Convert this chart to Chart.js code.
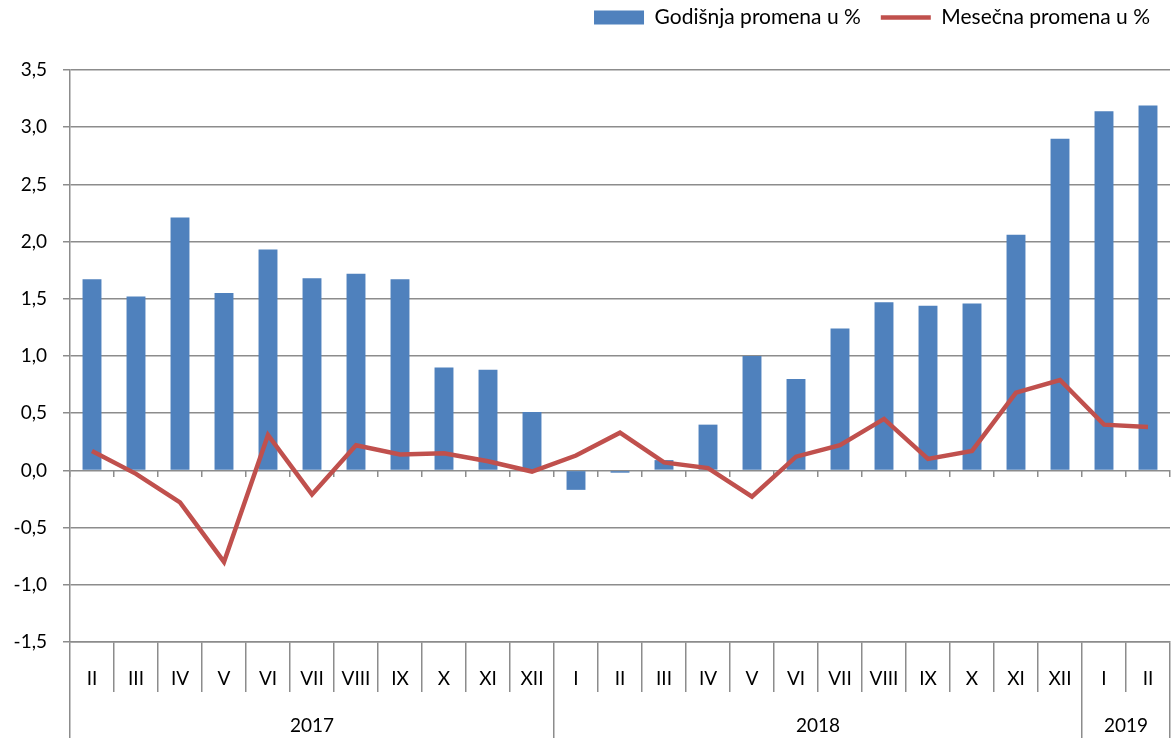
<!DOCTYPE html>
<html>
<head>
<meta charset="utf-8">
<script src="https://cdn.jsdelivr.net/npm/chart.js@4"></script>
<style>
  html, body { margin: 0; padding: 0; background: #fff; }
  #wrap { width: 1172px; height: 738px; }
</style>
</head>
<body>
<div id="wrap"><canvas id="grafik"></canvas></div>
<script>
// meseci, godine i vrednosti
var meseci = ['II', 'III', 'IV', 'V', 'VI', 'VII', 'VIII', 'IX', 'X', 'XI', 'XII',
    'I', 'II', 'III', 'IV', 'V', 'VI', 'VII', 'VIII', 'IX', 'X', 'XI', 'XII',
    'I', 'II'];
var godine = ['2017', '2018', '2019'];
var broj_meseci = [11, 12, 2];
var godisnja = [1.67, 1.52, 2.21, 1.55, 1.93, 1.68, 1.72, 1.67, 0.90, 0.88, 0.51,
    -0.17, -0.02, 0.09, 0.40, 1.00, 0.80, 1.24, 1.47, 1.44, 1.46, 2.06, 2.90,
    3.14, 3.19];
var mesecna = [0.17, -0.03, -0.28, -0.80, 0.31, -0.21, 0.22, 0.14, 0.15, 0.08, -0.01,
    0.13, 0.33, 0.07, 0.02, -0.23, 0.12, 0.22, 0.45, 0.10, 0.17, 0.68, 0.79,
    0.40, 0.38];
var y_ticks = [-1.5, -1.0, -0.5, 0.0, 0.5, 1.0, 1.5, 2.0, 2.5, 3.0, 3.5];

var siva = '#8c8c8c';
var font = { family: 'Lato', size: 19 };

// granice i sredine godina za donju osu
var granice = [-0.5];
var sredine = [];
var pocetak = -0.5;
for (let i = 0; i < broj_meseci.length; i++) {
    sredine.push(pocetak + broj_meseci[i] / 2);
    pocetak += broj_meseci[i];
    granice.push(pocetak);
}

// malo mesta izmedju legende i grafika
const razmak_legende = {
    id: 'razmak_legende',
    beforeInit(chart) {
        const fit = chart.legend.fit;
        chart.legend.fit = function () {
            fit.call(this);
            this.height += 32;
        };
    }
};

const ctx = document.getElementById('grafik');
const grafik = new Chart(ctx, {
    type: 'bar',
    data: {
        labels: meseci,
        datasets: [
            {
                label: 'Godišnja promena u %',
                data: godisnja,
                backgroundColor: '#4F81BD',
                borderWidth: 0,
                categoryPercentage: 0.86,
                barPercentage: 0.5,
                pointStyle: 'rect',
                order: 1
            },
            {
                type: 'line',
                label: 'Mesečna promena u %',
                data: mesecna,
                borderColor: '#C0504D',
                backgroundColor: '#C0504D',
                borderWidth: 4.5,
                pointRadius: 0,
                tension: 0,
                pointStyle: 'line',
                order: 0
            }
        ]
    },
    options: {
        responsive: true,
        maintainAspectRatio: false,
        animation: false,
        layout: { padding: { top: -13, right: 2, bottom: 0, left: 0 } },
        plugins: {
            legend: {
                display: true,
                position: 'top',
                align: 'end',
                labels: {
                    usePointStyle: true,
                    pointStyleWidth: 50,
                    boxHeight: 14,
                    padding: 20,
                    color: '#000',
                    font: { family: 'Lato', size: 21 },
                    sort: (a, b) => a.datasetIndex - b.datasetIndex
                }
            },
            tooltip: { enabled: false }
        },
        scales: {
            x: {
                type: 'category',
                position: 'bottom',
                weight: 0,
                offset: true,
                afterFit: (scale) => { scale.height = 50; },
                grid: {
                    offset: true,
                    drawOnChartArea: false,
                    tickLength: 50,
                    color: siva,
                    lineWidth: 1.5
                },
                border: { color: siva, width: 1.5 },
                ticks: {
                    autoSkip: false,
                    maxRotation: 0,
                    padding: -25,
                    color: '#000',
                    font: { family: 'Lato', size: 19 }
                }
            },
            godine: {
                type: 'linear',
                position: 'bottom',
                weight: 1,
                min: -0.5,
                max: 24.5,
                offset: false,
                afterFit: (scale) => { scale.height = 46; },
                afterBuildTicks: (scale) => {
                    scale.ticks = granice.concat(sredine).sort((a, b) => a - b)
                        .map(v => ({ value: v }));
                },
                grid: {
                    offset: false,
                    drawOnChartArea: false,
                    tickLength: 48,
                    lineWidth: 1.5,
                    color: (c) => (c.tick && granice.includes(c.tick.value)) ? siva : 'rgba(0,0,0,0)'
                },
                border: { display: false },
                ticks: {
                    autoSkip: false,
                    maxRotation: 0,
                    padding: -26,
                    color: '#000',
                    font: { family: 'Lato', size: 19 },
                    callback: (value) => {
                        const k = sredine.indexOf(value);
                        return k >= 0 ? godine[k] : '';
                    }
                }
            },
            x0: {
                type: 'category',
                position: { y: 0 },
                offset: true,
                grid: {
                    offset: true,
                    drawOnChartArea: false,
                    tickLength: 7,
                    color: siva,
                    lineWidth: 1.5
                },
                border: { display: false },
                ticks: { display: false }
            },
            y: {
                min: -1.5,
                max: 3.5,
                afterBuildTicks: (scale) => {
                    scale.ticks = y_ticks.map(v => ({ value: v }));
                },
                afterFit: (scale) => { scale.width = 70; },
                grid: {
                    color: siva,
                    lineWidth: 1.5,
                    tickLength: 7
                },
                border: { color: siva, width: 1.5 },
                ticks: {
                    padding: 16,
                    color: '#000',
                    font: font,
                    callback: (v) => v.toFixed(1).replace('.', ',')
                }
            }
        }
    },
    plugins: [razmak_legende]
});
</script>
</body>
</html>
